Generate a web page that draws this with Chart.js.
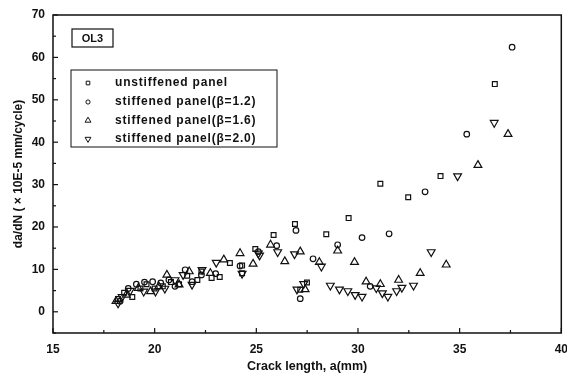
<!DOCTYPE html>
<html>
<head>
<meta charset="utf-8">
<script src="https://cdn.jsdelivr.net/npm/chart.js@4.4.1/dist/chart.umd.min.js"></script>
<style>
  html, body { margin: 0; padding: 0; background: #fff; }
  #wrap { width: 567px; height: 374px; }
</style>
</head>
<body>
<div id="wrap"><canvas id="chart" width="567" height="374"></canvas></div>
<script>
// Data (crack length mm, da/dN x10E-5 mm/cycle)
const unstiffX = [18.2, 18.5, 18.9, 19.3, 19.6, 20.0, 20.4, 20.8, 21.2, 21.6, 22.1, 22.3, 22.8, 23.2, 23.7, 24.3, 24.3, 24.95, 25.85, 26.9, 27.16, 27.49, 28.44, 29.54, 31.1, 32.47, 34.06, 36.73];
const unstiffY = [3.0, 4.5, 3.5, 5.5, 6.5, 5.5, 6.0, 7.0, 6.5, 8.5, 7.5, 9.5, 8.0, 8.2, 11.5, 9.1, 10.9, 14.8, 18.1, 20.7, 5.2, 6.9, 18.3, 22.1, 30.2, 27.0, 32.0, 53.7];

const b12X = [18.3, 18.7, 19.1, 19.5, 19.9, 20.3, 20.7, 21.0, 21.5, 21.84, 22.3, 23.0, 24.2, 25.1, 26.0, 26.95, 27.16, 27.79, 29.0, 30.2, 30.6, 31.53, 33.3, 35.35, 37.58];
const b12Y = [2.5, 5.5, 6.5, 7.0, 7.1, 6.8, 7.5, 6.0, 9.9, 7.1, 8.7, 9.0, 10.8, 14.2, 15.6, 19.2, 3.1, 12.5, 15.8, 17.5, 6.0, 18.4, 28.3, 41.9, 62.4];

const b16X = [18.1, 18.6, 19.2, 19.8, 20.2, 20.6, 21.2, 21.7, 22.74, 23.4, 24.2, 24.84, 25.7, 26.4, 27.16, 27.4, 28.1, 29.0, 29.83, 30.4, 31.1, 32.0, 33.06, 34.34, 35.9, 37.38];
const b16Y = [2.5, 4.0, 5.6, 4.8, 6.0, 8.7, 6.4, 9.5, 9.1, 12.3, 13.8, 11.3, 15.8, 11.9, 14.2, 5.3, 11.7, 14.4, 11.7, 7.1, 6.5, 7.5, 9.1, 11.1, 34.6, 41.9];

const b20X = [18.2, 18.4, 18.8, 19.46, 20.04, 20.5, 21.0, 21.4, 21.84, 22.33, 23.03, 24.3, 25.1, 25.16, 26.05, 26.88, 27.0, 27.33, 28.2, 28.64, 29.09, 29.5, 29.86, 30.2, 30.9, 31.2, 31.47, 31.9, 32.16, 32.73, 33.6, 34.9, 36.7];
const b20Y = [2.0, 3.5, 5.0, 4.8, 4.8, 5.5, 7.5, 8.7, 6.4, 9.9, 11.6, 9.0, 13.8, 13.3, 14.1, 13.6, 5.3, 6.6, 10.7, 6.2, 5.3, 4.9, 4.0, 3.6, 5.6, 4.4, 3.6, 4.9, 5.7, 6.2, 14.1, 32.0, 44.6];

const seriesNames = ["unstiffened panel", "stiffened panel(\u03b2=1.2)", "stiffened panel(\u03b2=1.6)", "stiffened panel(\u03b2=2.0)"];
const xTickLabels = [15, 20, 25, 30, 35, 40];
const yTickLabels = [0, 10, 20, 30, 40, 50, 60, 70];

function toPoints(xs, ys) {
  return xs.map((x, i) => ({ x: x, y: ys[i] }));
}

const FONT = "'Liberation Sans', Arial, sans-serif";

const markerStyles = [
  { pointStyle: 'rect', radius: 3.4, rotation: 0 },
  { pointStyle: 'circle', radius: 2.8, rotation: 0 },
  { pointStyle: 'triangle', radius: 4.5, rotation: 0 },
  { pointStyle: 'triangle', radius: 4.5, rotation: 180 }
];

function makeDataset(i, xs, ys) {
  const m = markerStyles[i];
  return {
    label: seriesNames[i],
    data: toPoints(xs, ys),
    showLine: false,
    pointStyle: m.pointStyle,
    pointRadius: m.radius,
    pointRotation: m.rotation,
    pointBorderWidth: 1.2,
    pointBorderColor: '#111',
    pointBackgroundColor: 'rgba(0,0,0,0)',
    pointHoverRadius: m.radius
  };
}

// frame, inward ticks, OL3 box and legend box
const decorPlugin = {
  id: 'decor',
  afterDraw(chart) {
    const ctx = chart.ctx;
    const a = chart.chartArea;
    const xs = chart.scales.x, ys = chart.scales.y;
    ctx.save();
    ctx.strokeStyle = '#111';
    ctx.lineWidth = 1.5;
    ctx.strokeRect(a.left, a.top, a.right - a.left, a.bottom - a.top);

    ctx.lineWidth = 1.2;
    for (let v = 15; v <= 40; v += 2.5) {
      const px = xs.getPixelForValue(v);
      const len = (v % 5 === 0) ? 5 : 3;
      ctx.beginPath();
      ctx.moveTo(px, a.bottom);
      ctx.lineTo(px, a.bottom - len);
      ctx.stroke();
    }
    for (let v = -5; v <= 70; v += 5) {
      const py = ys.getPixelForValue(v);
      const len = (v % 10 === 0) ? 5 : 3;
      ctx.beginPath();
      ctx.moveTo(a.left, py);
      ctx.lineTo(a.left + len, py);
      ctx.stroke();
    }

    // OL3 label box
    ctx.lineWidth = 1.2;
    ctx.strokeRect(72, 29, 41, 18);
    ctx.fillStyle = '#111';
    ctx.font = 'bold 11px ' + FONT;
    ctx.textAlign = 'center';
    ctx.textBaseline = 'middle';
    ctx.fillText('OL3', 92.5, 38.5);

    // legend box
    ctx.lineWidth = 1;
    ctx.strokeRect(71, 70, 206, 77);
    ctx.textAlign = 'left';
    ctx.font = 'bold 12px ' + FONT;
    ctx.letterSpacing = '0.8px';
    const rowY = [83, 102, 120.5, 139];
    seriesNames.forEach((name, i) => {
      const m = markerStyles[i];
      ctx.fillStyle = 'rgba(0,0,0,0)';
      Chart.helpers.drawPoint(ctx, {
        pointStyle: m.pointStyle,
        radius: m.radius * 0.75,
        rotation: m.rotation,
        borderWidth: 1
      }, 88, rowY[i]);
      ctx.fillStyle = '#111';
      ctx.fillText(name, 115, rowY[i]);
    });
    ctx.restore();
  }
};

new Chart(document.getElementById('chart'), {
  type: 'scatter',
  data: {
    datasets: [
      makeDataset(0, unstiffX, unstiffY),
      makeDataset(1, b12X, b12Y),
      makeDataset(2, b16X, b16Y),
      makeDataset(3, b20X, b20Y)
    ]
  },
  options: {
    responsive: false,
    animation: false,
    layout: { padding: { top: 15, right: 5, left: 0, bottom: 0 } },
    plugins: {
      legend: { display: false },
      tooltip: { enabled: false }
    },
    scales: {
      x: {
        type: 'linear',
        min: 15, max: 40,
        afterFit(scale) {
          scale.height = 41;
          scale.paddingLeft = 0;
          scale.paddingRight = 0;
        },
        afterBuildTicks(scale) { scale.ticks = xTickLabels.map(v => ({ value: v })); },
        grid: { display: false, drawTicks: false },
        border: { display: false },
        ticks: {
          padding: 9,
          color: '#111',
          maxRotation: 0,
          font: { family: FONT, size: 12, weight: 'bold' }
        },
        title: {
          display: true,
          text: 'Crack length, a(mm)',
          color: '#111',
          padding: { top: 0, bottom: 0 },
          font: { family: FONT, size: 12.5, weight: 'bold' }
        }
      },
      y: {
        type: 'linear',
        min: -5, max: 70,
        afterFit(scale) {
          scale.width = 53;
          scale.paddingTop = 0;
          scale.paddingBottom = 0;
        },
        afterBuildTicks(scale) { scale.ticks = yTickLabels.map(v => ({ value: v })); },
        grid: { display: false, drawTicks: false },
        border: { display: false },
        ticks: {
          padding: 8,
          color: '#111',
          font: { family: FONT, size: 12, weight: 'bold' }
        },
        title: {
          display: true,
          text: 'da/dN ( \u00d7 10E-5 mm/cycle)',
          color: '#111',
          padding: { top: 11, bottom: 0 },
          font: { family: FONT, size: 12, weight: 'bold' }
        }
      }
    }
  },
  plugins: [decorPlugin]
});
</script>
</body>
</html>
